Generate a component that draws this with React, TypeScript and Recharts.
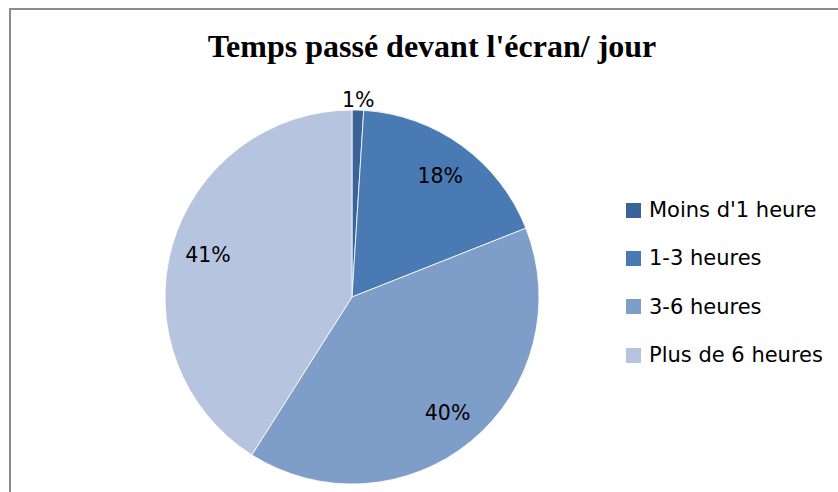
import { PieChart, Pie, Cell, Legend } from "recharts";

// --- Data ---

const CATEGORIES = ["Moins d'1 heure", "1-3 heures", "3-6 heures", "Plus de 6 heures"];
const SHARES = [1, 18, 40, 41];
const COLORS = ["#3C6397", "#4A7AB4", "#7F9DC9", "#B7C4DF"];

const TITLE = "Temps passé devant l'écran/ jour";

const RADIAN = Math.PI / 180;
const OUTER_RADIUS = 187;
const LABEL_FONT = "'DejaVu Sans', sans-serif";

const pieData = CATEGORIES.map((name, i) => ({ name, value: SHARES[i] }));

// --- Labels ---

function renderLabel(props: any)
{
    const { cx, cy, midAngle, value } = props;
    // tiny slices get their label pushed outside the pie
    const r = value < 5 ? OUTER_RADIUS + 10 : 150;
    const x = cx + r * Math.cos(-midAngle * RADIAN);
    const y = cy + r * Math.sin(-midAngle * RADIAN);
    return (
        <text
            x={x}
            y={y}
            textAnchor="middle"
            dominantBaseline="central"
            fill="#000"
            fontSize={20.5}
            fontFamily={LABEL_FONT}
        >
            {`${value}%`}
        </text>
    );
}

function renderLegend(props: any)
{
    // keep the series order instead of the alphabetical default
    const items = [...(props.payload || [])].sort(
        (a: any, b: any) => CATEGORIES.indexOf(a.value) - CATEGORIES.indexOf(b.value)
    );
    return (
        <div style={{ fontFamily: LABEL_FONT, fontSize: 21, color: "#000" }}>
            {items.map((entry: any) => (
                <div
                    key={entry.value}
                    style={{ height: 48.3, display: "flex", alignItems: "center" }}
                >
                    <span
                        style={{
                            display: "inline-block",
                            width: 15,
                            height: 15,
                            marginRight: 8,
                            backgroundColor: entry.color,
                        }}
                    />
                    <span style={{ whiteSpace: "nowrap" }}>{entry.value}</span>
                </div>
            ))}
        </div>
    );
}

// --- Component ---

export default function App()
{
    return (
        <div
            style={{
                position: "absolute",
                left: 0,
                top: 0,
                width: 838,
                height: 492,
                overflow: "hidden",
                background: "#fff",
            }}
        >
            <div
                style={{
                    position: "absolute",
                    left: 9,
                    top: 8,
                    width: 900,
                    height: 600,
                    border: "2px solid #8C8C8C",
                }}
            />
            <div
                style={{
                    position: "absolute",
                    left: 0,
                    top: 26,
                    width: 864,
                    textAlign: "center",
                    fontFamily: "'Liberation Serif', serif",
                    fontWeight: "bold",
                    fontSize: 32,
                    lineHeight: "40px",
                    color: "#000",
                }}
            >
                {TITLE}
            </div>
            <div style={{ position: "absolute", left: 0, top: 0 }}>
                <PieChart
                    width={838}
                    height={492}
                    margin={{ top: 0, right: 0, bottom: 0, left: 0 }}
                >
                    <Pie
                        data={pieData}
                        dataKey="value"
                        nameKey="name"
                        cx={352}
                        cy={297}
                        outerRadius={OUTER_RADIUS}
                        startAngle={90}
                        endAngle={-270}
                        stroke="#fff"
                        strokeWidth={0.8}
                        label={renderLabel}
                        labelLine={false}
                        isAnimationActive={false}
                    >
                        {pieData.map((entry, i) => (
                            <Cell key={entry.name} fill={COLORS[i]} />
                        ))}
                    </Pie>
                    <Legend
                        layout="vertical"
                        align="right"
                        verticalAlign="top"
                        content={renderLegend}
                        wrapperStyle={{ left: 626, top: 186, width: 210 }}
                    />
                </PieChart>
            </div>
        </div>
    );
}
